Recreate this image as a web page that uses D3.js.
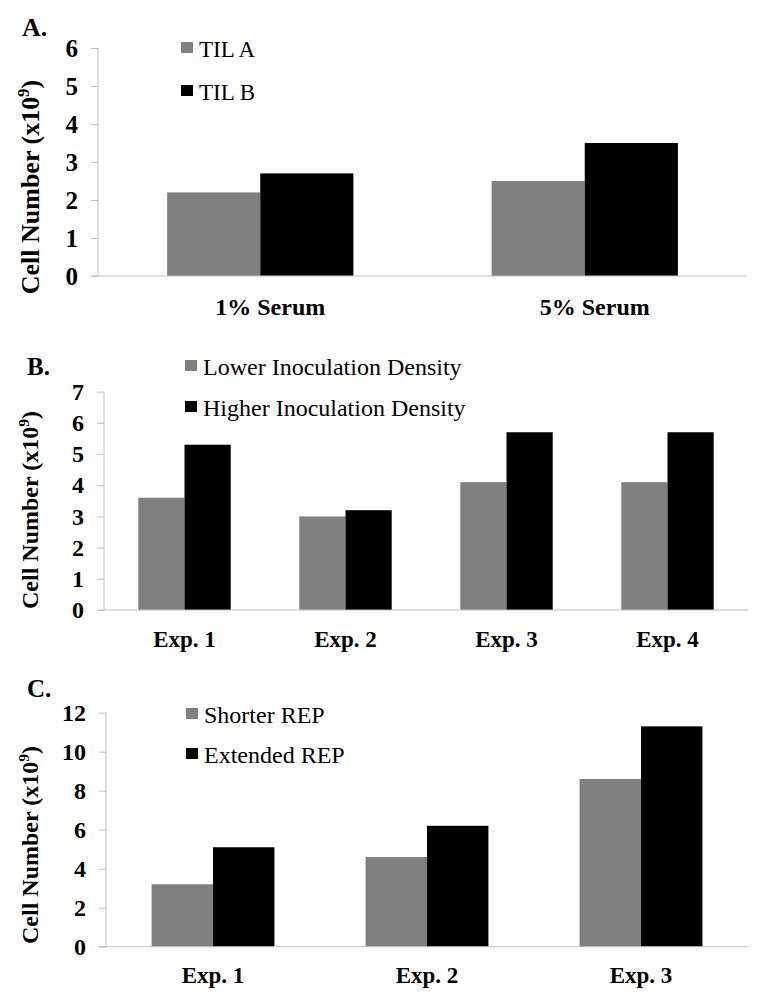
<!DOCTYPE html>
<html>
<head>
<meta charset="utf-8">
<script src="https://cdn.jsdelivr.net/npm/d3@7"></script>
<style>
  html, body { margin: 0; padding: 0; background: #fff; }
  svg { display: block; }
  text { font-family: "Liberation Serif", "Times New Roman", serif; }
</style>
</head>
<body>
<svg id="chart" width="762" height="1004"></svg>
<script>
// ---------- Data ----------
const categoriesA = ["1% Serum", "5% Serum"];
const seriesNamesA = ["TIL A", "TIL B"];
const tilA = [2.2, 2.5];
const tilB = [2.7, 3.5];
const ticksA = [0, 1, 2, 3, 4, 5, 6];

const categoriesB = ["Exp. 1", "Exp. 2", "Exp. 3", "Exp. 4"];
const seriesNamesB = ["Lower Inoculation Density", "Higher Inoculation Density"];
const lowerDensity = [3.6, 3.0, 4.1, 4.1];
const higherDensity = [5.3, 3.2, 5.7, 5.7];
const ticksB = [0, 1, 2, 3, 4, 5, 6, 7];

const categoriesC = ["Exp. 1", "Exp. 2", "Exp. 3"];
const seriesNamesC = ["Shorter REP", "Extended REP"];
const shorterREP = [3.2, 4.6, 8.6];
const extendedREP = [5.1, 6.2, 11.3];
const ticksC = [0, 2, 4, 6, 8, 10, 12];

const colors = ["#808080", "#000000"];
const axisColor = "#bfbfbf";

const svg = d3.select("#chart");

function panel(cfg) {
  const g = svg.append("g");
  const y = d3.scaleLinear().domain([0, cfg.ymax]).range([cfg.yBottom, cfg.yTop]);
  const x = d3.scaleBand().domain(cfg.categories).range([cfg.xLeft, cfg.xRight])
    .paddingInner(0.426).paddingOuter(0.213);
  const xi = d3.scaleBand().domain(d3.range(cfg.series.length)).range([0, x.bandwidth()]);

  // bars
  cfg.series.forEach((vals, si) => {
    g.append("g").selectAll("rect").data(vals).join("rect")
      .attr("x", (d, i) => x(cfg.categories[i]) + xi(si))
      .attr("y", d => y(d))
      .attr("width", xi.bandwidth())
      .attr("height", d => y(0) - y(d))
      .attr("fill", colors[si]);
  });

  // y axis
  const yAxis = d3.axisLeft(y).tickValues(cfg.ticks).tickSize(7).tickPadding(13)
    .tickFormat(d3.format("d"));
  const ya = g.append("g").attr("transform", `translate(${cfg.xLeft},0)`).call(yAxis);
  ya.select(".domain").attr("stroke", axisColor).attr("d", `M0,${cfg.yTop}V${cfg.yBottom}`);
  ya.selectAll(".tick line").attr("stroke", axisColor);
  ya.selectAll(".tick text").attr("fill", "#000")
    .style("font-family", '"Liberation Serif", serif')
    .style("font-weight", "bold").style("font-size", cfg.tickFont + "px");

  // x axis
  const xAxis = d3.axisBottom(x).tickSize(0).tickPadding(cfg.catPad);
  const xa = g.append("g").attr("transform", `translate(0,${cfg.yBottom})`).call(xAxis);
  xa.select(".domain").attr("stroke", axisColor).attr("d", `M${cfg.xLeft - 7},0H${cfg.xRight}`);
  xa.selectAll(".tick text").attr("fill", "#000").attr("dx", cfg.catDx || 0)
    .style("font-family", '"Liberation Serif", serif')
    .style("font-weight", "bold").style("font-size", cfg.catFont + "px");

  // y title
  const cy = cfg.titleCenter;
  const t = g.append("text")
    .attr("transform", `translate(${cfg.titleX},${cy}) rotate(-90)`)
    .attr("text-anchor", "middle")
    .style("font-weight", "bold").style("font-size", cfg.titleFont + "px");
  t.append("tspan").text("Cell Number (x10");
  t.append("tspan").attr("dy", -cfg.titleFont * 0.38).style("font-size", (cfg.titleFont * 0.65) + "px").text("9");
  t.append("tspan").attr("dy", cfg.titleFont * 0.38).text(")");

  // panel letter
  g.append("text").attr("x", cfg.letterX).attr("y", cfg.letterY)
    .style("font-weight", "bold").style("font-size", cfg.letterFont + "px").text(cfg.letter);

  // legend
  cfg.names.forEach((n, i) => {
    const ly = cfg.legendY + i * cfg.legendGap;
    g.append("rect").attr("x", cfg.legendX).attr("y", ly - 15).attr("width", 12).attr("height", 11)
      .attr("fill", colors[i]);
    g.append("text").attr("x", cfg.legendX + 18).attr("y", ly)
      .style("font-size", cfg.legendFont + "px").text(n);
  });
}

panel({
  categories: categoriesA, series: [tilA, tilB], names: seriesNamesA, ticks: ticksA, ymax: 6,
  xLeft: 98, xRight: 747, yTop: 48, yBottom: 276,
  tickFont: 25, catFont: 24, catPad: 22, catDx: 10, titleFont: 26, titleX: 39, titleCenter: 187,
  letter: "A.", letterX: 22, letterY: 36, letterFont: 26,
  legendX: 181, legendY: 57, legendGap: 43, legendFont: 23
});

panel({
  categories: categoriesB, series: [lowerDensity, higherDensity], names: seriesNamesB, ticks: ticksB, ymax: 7,
  xLeft: 104, xRight: 748, yTop: 391.7, yBottom: 610,
  tickFont: 24, catFont: 23, catPad: 21, titleFont: 24, titleX: 38, titleCenter: 510,
  letter: "B.", letterX: 27, letterY: 375, letterFont: 25,
  legendX: 185, legendY: 375, legendGap: 41, legendFont: 24
});

panel({
  categories: categoriesC, series: [shorterREP, extendedREP], names: seriesNamesC, ticks: ticksC, ymax: 12,
  xLeft: 106, xRight: 748, yTop: 712.7, yBottom: 946.7,
  tickFont: 24, catFont: 23, catPad: 20, titleFont: 24, titleX: 38, titleCenter: 845,
  letter: "C.", letterX: 27, letterY: 697, letterFont: 25,
  legendX: 186, legendY: 723, legendGap: 40, legendFont: 24
});
</script>
</body>
</html>
